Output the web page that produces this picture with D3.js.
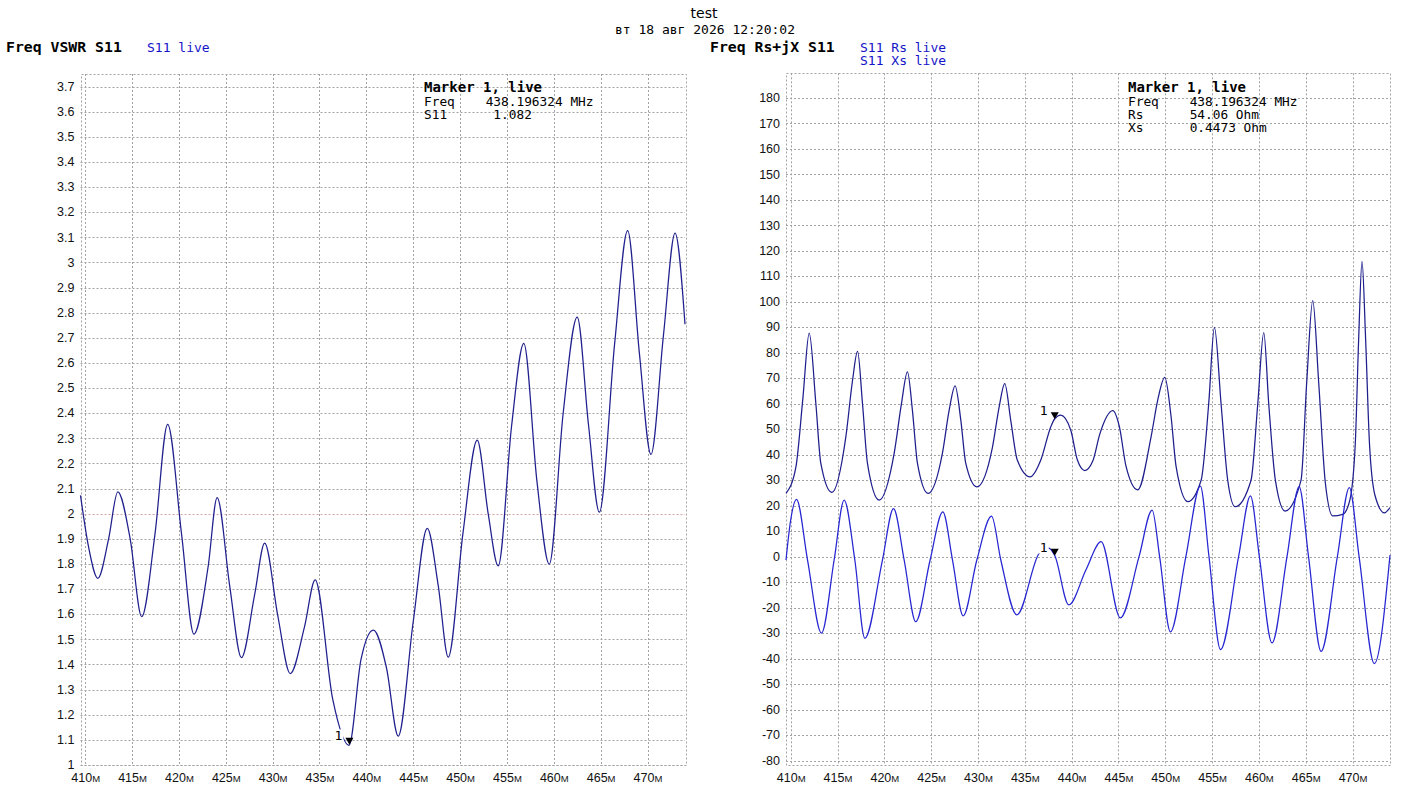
<!DOCTYPE html>
<html>
<head>
<meta charset="utf-8">
<script src="https://cdn.jsdelivr.net/npm/d3@7"></script>
<style>
  body { margin: 0; background: #fff; }
  svg { display: block; }
</style>
</head>
<body>
<svg id="chart" width="1410" height="798"></svg>
<script>
// ---- data ----
const title = "test";
const stamp = "вт 18 авг 2026 12:20:02";
const freqSpan = [409.5, 474.0];
const freqTicks = [410, 415, 420, 425, 430, 435, 440, 445, 450, 455, 460, 465, 470];
const vswrTicks = [1, 1.1, 1.2, 1.3, 1.4, 1.5, 1.6, 1.7, 1.8, 1.9, 2, 2.1, 2.2, 2.3, 2.4,
                   2.5, 2.6, 2.7, 2.8, 2.9, 3, 3.1, 3.2, 3.3, 3.4, 3.5, 3.6, 3.7];
const rxTicks = [-80, -70, -60, -50, -40, -30, -20, -10, 0, 10, 20, 30, 40, 50, 60, 70,
                 80, 90, 100, 110, 120, 130, 140, 150, 160, 170, 180];

const vswrFreq = [409.5, 410.35, 411.35, 412.5, 413.48, 414.8, 416.03, 417.45, 418.8, 420.28,
  421.6, 423.12, 424.08, 425.43, 426.67, 428.09, 429.15, 430.57, 431.88, 433.4, 434.54, 436.42,
  438.15, 439.43, 440.75, 442.15, 443.4, 445.0, 446.5, 447.67, 448.74, 450.3, 451.83, 453.0,
  454.07, 455.5, 456.8, 458.2, 459.52, 461.0, 462.5, 463.7, 464.86, 466.5, 467.88, 469.13,
  470.37, 471.7, 472.94, 474.0];
const vswrVals = [2.073, 1.87, 1.743, 1.9, 2.087, 1.9, 1.59, 1.92, 2.356, 1.92,
  1.521, 1.79, 2.064, 1.71, 1.427, 1.68, 1.883, 1.59, 1.364, 1.55, 1.737, 1.26,
  1.078, 1.42, 1.537, 1.386, 1.115, 1.57, 1.942, 1.714, 1.429, 1.92, 2.293, 2.0,
  1.792, 2.35, 2.678, 2.13, 1.799, 2.4, 2.782, 2.355, 2.006, 2.68, 3.127, 2.64,
  2.236, 2.71, 3.117, 2.754];

const rsFreq = [409.5, 410.55, 411.3, 411.98, 412.69, 413.22, 414.4, 415.89, 416.6, 417.14,
  417.67, 418.2, 419.45, 421.05, 421.83, 422.47, 423.0, 423.54, 424.68, 426.2, 426.92, 427.56,
  428.17, 428.7, 429.88, 431.55, 432.26, 432.86, 433.5, 434.2, 435.57, 436.71, 437.77, 438.2,
  438.84, 439.91, 440.62, 441.4, 442.26, 443.0, 444.4, 445.1, 445.82, 447.06, 448.49, 449.2,
  449.95, 450.62, 451.16, 452.4, 453.83, 454.64, 455.25, 455.96, 456.67, 457.46, 459.16, 459.88,
  460.52, 461.05, 461.76, 462.79, 464.5, 465.1, 465.75, 466.39, 467.1, 467.88, 468.95, 469.7,
  470.3, 470.65, 471.01, 471.4, 471.8, 472.4, 473.4, 474.0];
const rsVals = [24.8, 35, 62, 87.7, 60, 36.6, 25.2, 47, 69, 80.5,
  60, 36.6, 22.2, 40.5, 60, 72.5, 57.4, 36.6, 24.8, 40.5, 57.4, 67,
  53.5, 36.6, 27.4, 43, 58.7, 67.9, 53.5, 37.9, 31.3, 37.9, 50.9, 54.1,
  55.5, 49.6, 37.9, 33.8, 37.5, 48, 57.3, 51, 35.3, 26.2, 47.1, 61.5,
  70.3, 55, 35.3, 21.6, 30, 60, 89.9, 60, 30, 19.6, 30, 60,
  87.9, 60, 30, 17.9, 30, 68, 100.4, 68, 28.8, 16.0, 16.6, 22,
  45, 85, 115.8, 85, 45, 24, 17.2, 19.3];

const xsFreq = [409.5, 410.0, 410.62, 411.8, 413.29, 414.64, 415.71, 416.85, 417.92, 419.8,
  420.98, 422.12, 423.36, 424.89, 426.25, 427.28, 428.42, 429.88, 431.45, 432.44, 434.15, 436.53,
  437.5, 438.2, 439.7, 441.55, 443.15, 445.2, 447.2, 448.6, 449.4, 450.55, 452.2, 453.75,
  454.67, 455.9, 457.83, 459.1, 460.05, 461.4, 463.0, 464.3, 465.3, 466.64, 468.38, 469.66,
  470.7, 472.33, 474.0];
const xsVals = [-1.3, 14.4, 22.5, -1.3, -30, -1.3, 22.2, -1.3, -32, -1.3,
  18.9, -1.3, -25.5, -1.3, 17.6, -1.3, -23.2, -1.3, 15.9, -1.3, -22.8, 1.3,
  3.5, 0.45, -18.9, -5, 5.9, -24.0, 0, 18.3, 0, -29.5, 0, 27.7,
  0, -36.4, 0, 23.9, 0, -33.8, 0, 27.5, 0, -37.1, 0, 27.1,
  0, -41.9, 0.6];

const markerFreq = 438.196324;
const markerVswr = 1.082;
const markerRs = 54.06;
const markerXs = 0.4473;

// ---- drawing ----
const MONO = '"DejaVu Sans Mono", "Liberation Mono", monospace';
const SANS = '"Liberation Sans", Arial, sans-serif';
const GRID = "#a3a3a3";
const svg = d3.select("#chart");
const crisp = v => Math.round(v) + 0.5;

svg.append("text")
  .attr("x", 704).attr("y", 18).attr("text-anchor", "middle")
  .style("font-family", '"DejaVu Sans", sans-serif').style("font-size", "14px")
  .text(title);
svg.append("text")
  .attr("x", 705).attr("y", 34).attr("text-anchor", "middle")
  .style("font-family", MONO).style("font-size", "13px")
  .text(stamp);

function header(x, y, label, traces) {
  svg.append("text").attr("x", x).attr("y", y)
    .style("font-family", MONO).style("font-size", "14.8px").style("font-weight", "bold")
    .text(label);
  traces.forEach((t, i) => {
    svg.append("text").attr("x", t.x).attr("y", y + i * 13)
      .style("font-family", MONO).style("font-size", "13px").attr("fill", "#1414c8")
      .text(t.text);
  });
}

function panel(cfg) {
  const x = d3.scaleLinear().domain(freqSpan).range([cfg.left, cfg.right]);
  const y = d3.scaleLinear().domain(cfg.yDomain).range([cfg.bottom, cfg.top]);
  const g = svg.append("g");

  // dotted grid
  g.selectAll(".hg").data(cfg.yTicks).join("line")
    .attr("x1", cfg.left).attr("x2", cfg.right)
    .attr("y1", d => crisp(y(d))).attr("y2", d => crisp(y(d)))
    .attr("stroke", d => d === cfg.refLine ? "#d6a4a4" : GRID)
    .attr("stroke-dasharray", "2,2");
  g.selectAll(".vg").data(freqTicks).join("line")
    .attr("y1", cfg.top).attr("y2", cfg.bottom)
    .attr("x1", d => crisp(x(d))).attr("x2", d => crisp(x(d)))
    .attr("stroke", GRID).attr("stroke-dasharray", "2,2");
  g.append("rect")
    .attr("x", crisp(cfg.left)).attr("y", crisp(cfg.top))
    .attr("width", Math.round(cfg.right - cfg.left)).attr("height", Math.round(cfg.bottom - cfg.top))
    .attr("fill", "none").attr("stroke", GRID).attr("stroke-dasharray", "2,2");

  // axes labels
  const ya = g.append("g").attr("transform", `translate(${cfg.left},0)`)
    .call(d3.axisLeft(y).tickValues(cfg.yTicks).tickSize(0).tickPadding(6).tickFormat(d => String(d)));
  ya.select(".domain").remove();
  ya.selectAll("text").attr("font-family", SANS).attr("font-size", "12.5px").attr("fill", "#111")
    .attr("dy", "0.3em");

  const xa = g.append("g").attr("transform", `translate(0,${cfg.bottom})`)
    .call(d3.axisBottom(x).tickValues(freqTicks).tickSize(0).tickPadding(8).tickFormat(d => d));
  xa.select(".domain").remove();
  xa.selectAll("text").attr("font-family", SANS).attr("font-size", "12.5px").attr("fill", "#111")
    .append("tspan").attr("font-size", "9.5px").text("M");

  // traces
  cfg.series.forEach(s => {
    const pts = s.freq.map((f, i) => [f, s.vals[i]]);
    g.append("path").datum(pts)
      .attr("fill", "none").attr("stroke", s.color).attr("stroke-width", 1.25)
      .attr("d", d3.line().x(d => x(d[0])).y(d => y(d[1])).curve(d3.curveMonotoneX));
  });

  // markers
  cfg.markers.forEach(m => {
    const mx = x(markerFreq), my = y(m);
    g.append("rect").attr("x", mx - 17).attr("y", my - 15).attr("width", 11).attr("height", 13)
      .attr("fill", "#fff");
    g.append("text").attr("x", mx - 11).attr("y", my - 4).attr("text-anchor", "middle")
      .style("font-family", MONO).style("font-size", "13px").text("1");
    g.append("path")
      .attr("d", d3.symbol(d3.symbolTriangle, 28))
      .attr("transform", `translate(${mx},${my - 4.4}) rotate(180)`)
      .attr("fill", "#000");
  });

  // marker readout
  const info = g.append("g");
  info.append("text").attr("x", cfg.infoX).attr("y", 92)
    .style("font-family", MONO).style("font-size", "14px").style("font-weight", "bold")
    .text("Marker 1, live");
  cfg.info.forEach((line, i) => {
    info.append("text").attr("x", cfg.infoX).attr("y", 106 + i * 13)
      .style("font-family", MONO).style("font-size", "12.8px").style("white-space", "pre")
      .text(line);
  });
}

header(6, 52, "Freq VSWR S11", [{ x: 147, text: "S11 live" }]);
header(710, 52, "Freq Rs+jX S11", [{ x: 860, text: "S11 Rs live" }, { x: 860, text: "S11 Xs live" }]);

panel({
  left: 80.5, right: 685, top: 74, bottom: 765,
  yDomain: [1, 3.75], yTicks: vswrTicks, refLine: 2,
  series: [{ freq: vswrFreq, vals: vswrVals, color: "#20208e" }],
  markers: [markerVswr],
  infoX: 424,
  info: ["Freq    438.196324 MHz", "S11      " + markerVswr.toFixed(3)]
});

panel({
  left: 786, right: 1390, top: 73.3, bottom: 765,
  yDomain: [-81.7, 189.6], yTicks: rxTicks, refLine: null,
  series: [
    { freq: rsFreq, vals: rsVals, color: "#1e1e8c" },
    { freq: xsFreq, vals: xsVals, color: "#2626d2" }
  ],
  markers: [markerRs, markerXs],
  infoX: 1128,
  info: ["Freq    438.196324 MHz", "Rs      " + markerRs.toFixed(2) + " Ohm", "Xs      " + markerXs + " Ohm"]
});
</script>
</body>
</html>
